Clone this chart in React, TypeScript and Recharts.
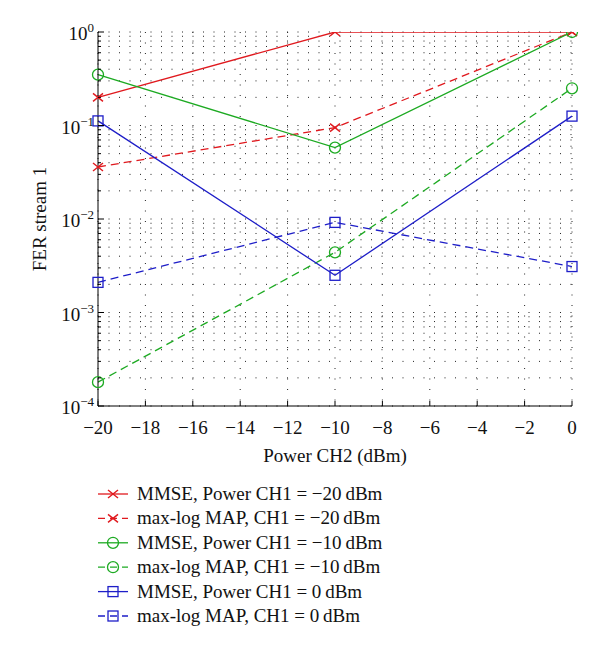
import React from 'react';
import { LineChart, Line, XAxis, YAxis, CartesianGrid } from 'recharts';

const powerCH2 = [-20, -10, 0];
const mmseM20 = [0.2, 1.0, 1.0];
const mapM20 = [0.036, 0.095, 1.0];
const mmseM10 = [0.35, 0.058, 1.0];
const mapM10 = [0.00018, 0.0044, 0.25];
const mmse0 = [0.112, 0.0025, 0.126];
const map0 = [0.0021, 0.0092, 0.0031];

const xTicks = [-20, -18, -16, -14, -12, -10, -8, -6, -4, -2, 0];
const decades = [-4, -3, -2, -1, 0];
const yTicks: number[] = [];
decades.forEach((e) => {
  if (e === 0) {
    yTicks.push(1);
  } else {
    for (let k = 1; k <= 9; k++) yTicks.push(Number((k * Math.pow(10, e)).toPrecision(3)));
  }
});

const RED = '#e0191e';
const GREEN = '#1daa22';
const BLUE = '#1e1ec8';

const seriesDefs = [
  { key: 'mmseM20', values: mmseM20, name: 'MMSE, Power CH1 = \u221220\u2009dBm', color: RED, dashed: false, marker: 'x' },
  { key: 'mapM20', values: mapM20, name: 'max-log MAP, CH1 = \u221220\u2009dBm', color: RED, dashed: true, marker: 'x' },
  { key: 'mmseM10', values: mmseM10, name: 'MMSE, Power CH1 = \u221210\u2009dBm', color: GREEN, dashed: false, marker: 'o' },
  { key: 'mapM10', values: mapM10, name: 'max-log MAP, CH1 = \u221210\u2009dBm', color: GREEN, dashed: true, marker: 'o' },
  { key: 'mmse0', values: mmse0, name: 'MMSE, Power CH1 = 0\u2009dBm', color: BLUE, dashed: false, marker: 's' },
  { key: 'map0', values: map0, name: 'max-log MAP, CH1 = 0\u2009dBm', color: BLUE, dashed: true, marker: 's' },
];

const data = powerCH2.map((x, i) => {
  const row: Record<string, number> = { x };
  seriesDefs.forEach((s) => {
    row[s.key] = s.values[i];
  });
  return row;
});

const FONT = '"Liberation Serif", "Times New Roman", serif';
const DASH = '8 5';

function Marker({ cx, cy, type, color }: { cx: number; cy: number; type: string; color: string }) {
  if (cx == null || cy == null || isNaN(cx) || isNaN(cy)) return null;
  if (type === 'x') {
    const r = 5;
    return (
      <g stroke={color} strokeWidth={1.4}>
        <line x1={cx - r} y1={cy - r + 1} x2={cx + r} y2={cy + r - 1} />
        <line x1={cx - r} y1={cy + r - 1} x2={cx + r} y2={cy - r + 1} />
      </g>
    );
  }
  if (type === 'o') {
    return <circle cx={cx} cy={cy} r={5.5} fill="none" stroke={color} strokeWidth={1.3} />;
  }
  return <rect x={cx - 5} y={cy - 5} width={10} height={10} fill="none" stroke={color} strokeWidth={1.3} />;
}

const isMajor = (v: number) => Math.abs(Math.log10(v) - Math.round(Math.log10(v))) < 1e-6;

const LeftTick = (props: any) => {
  const { x, y, payload } = props;
  const v = payload.value;
  const major = isMajor(v);
  const e = Math.round(Math.log10(v));
  return (
    <g>
      <line x1={x} x2={x + (major ? 6 : 3)} y1={y} y2={y} stroke="#000" strokeWidth={1} />
      {major && (
        <text x={x - 4} y={y + 8} textAnchor="end" fontFamily={FONT} fontSize={19} fill="#111">
          <tspan>10</tspan>
          <tspan dy={-8} fontSize={13}>{e < 0 ? '\u2212' + Math.abs(e) : String(e)}</tspan>
        </text>
      )}
    </g>
  );
};

const RightTick = (props: any) => {
  const { x, y, payload } = props;
  const major = isMajor(payload.value);
  return <line x1={x} x2={x - (major ? 6 : 3)} y1={y} y2={y} stroke="#000" strokeWidth={1} />;
};

const BottomTick = (props: any) => {
  const { x, y, payload } = props;
  const v = payload.value;
  const label = v < 0 ? '\u2212' + Math.abs(v) : String(v);
  return (
    <g>
      <line x1={x} x2={x} y1={y} y2={y - 5} stroke="#000" strokeWidth={1} />
      <text x={x} y={y + 28} textAnchor="middle" fontFamily={FONT} fontSize={19} fill="#111">
        {label}
      </text>
    </g>
  );
};

const TopTick = (props: any) => {
  const { x, y } = props;
  return <line x1={x} x2={x} y1={y} y2={y + 5} stroke="#000" strokeWidth={1} />;
};

const YLabel = (props: any) => {
  const vb = props.viewBox || { x: 0, y: 32, width: 98, height: 374 };
  const cx = 46;
  const cy = vb.y + vb.height / 2;
  return (
    <text x={cx} y={cy} transform={`rotate(-90, ${cx}, ${cy})`} textAnchor="middle" fontFamily={FONT} fontSize={19} fill="#111">
      FER stream 1
    </text>
  );
};

const XLabel = (props: any) => {
  const vb = props.viewBox || { x: 98, y: 406, width: 474, height: 60 };
  return (
    <text x={vb.x + vb.width / 2} y={462} textAnchor="middle" fontFamily={FONT} fontSize={19} fill="#111">
      Power CH2 (dBm)
    </text>
  );
};

function LegendBox() {
  return (
    <svg width={600} height={180} style={{ position: 'absolute', left: 0, top: 470 }}>
      {seriesDefs.map((s, i) => {
        const cy = 24 + i * 24.4;
        return (
          <g key={s.key}>
            <line x1={98} x2={128} y1={cy} y2={cy} stroke={s.color} strokeWidth={1.3} strokeDasharray={s.dashed ? '7 5' : undefined} />
            <Marker cx={113} cy={cy} type={s.marker} color={s.color} />
            <text x={137} y={cy + 6} fontFamily={FONT} fontSize={19} fill="#111">
              {s.name}
            </text>
          </g>
        );
      })}
    </svg>
  );
}

export default function App() {
  return (
    <div style={{ position: 'absolute', left: 0, top: 0, width: 600, height: 652, background: '#fff' }}>
      <LineChart width={600} height={652} data={data} margin={{ top: 32, right: 28, left: 0, bottom: 186 }}>
        <CartesianGrid
          xAxisId={0}
          yAxisId="left"
          stroke="#222"
          strokeWidth={1}
          strokeDasharray="1 9.5"
        />
        <XAxis
          xAxisId={0}
          dataKey="x"
          type="number"
          domain={[-20, 0]}
          ticks={xTicks}
          interval={0}
          tickSize={0}
          tickMargin={0}
          tickLine={false}
          axisLine={{ stroke: '#000', strokeWidth: 1 }}
          tick={<BottomTick />}
          height={60}
          label={<XLabel />}
        />
        <XAxis
          xAxisId="top"
          orientation="top"
          dataKey="x"
          type="number"
          domain={[-20, 0]}
          ticks={xTicks}
          interval={0}
          tickSize={0}
          tickMargin={0}
          tickLine={false}
          axisLine={{ stroke: '#000', strokeWidth: 1 }}
          tick={<TopTick />}
          height={0}
        />
        <YAxis
          yAxisId="left"
          scale="log"
          type="number"
          domain={[1e-4, 1]}
          allowDataOverflow
          ticks={yTicks}
          interval={0}
          tickSize={0}
          tickMargin={0}
          tickLine={false}
          axisLine={{ stroke: '#000', strokeWidth: 1 }}
          tick={<LeftTick />}
          width={98}
          label={<YLabel />}
        />
        <YAxis
          yAxisId="right"
          orientation="right"
          scale="log"
          type="number"
          domain={[1e-4, 1]}
          allowDataOverflow
          ticks={yTicks}
          interval={0}
          tickSize={0}
          tickMargin={0}
          tickLine={false}
          axisLine={{ stroke: '#000', strokeWidth: 1 }}
          tick={<RightTick />}
          width={0}
        />
        {seriesDefs.map((s) => (
          <Line
            key={s.key}
            xAxisId={0}
            yAxisId="left"
            dataKey={s.key}
            name={s.name}
            stroke={s.color}
            strokeWidth={1.3}
            strokeDasharray={s.dashed ? DASH : undefined}
            isAnimationActive={false}
            dot={(p: any) => <Marker key={`${s.key}-${p.index}`} cx={p.cx} cy={p.cy} type={s.marker} color={s.color} />}
            activeDot={false}
            type="linear"
          />
        ))}
      </LineChart>
      <LegendBox />
    </div>
  );
}
